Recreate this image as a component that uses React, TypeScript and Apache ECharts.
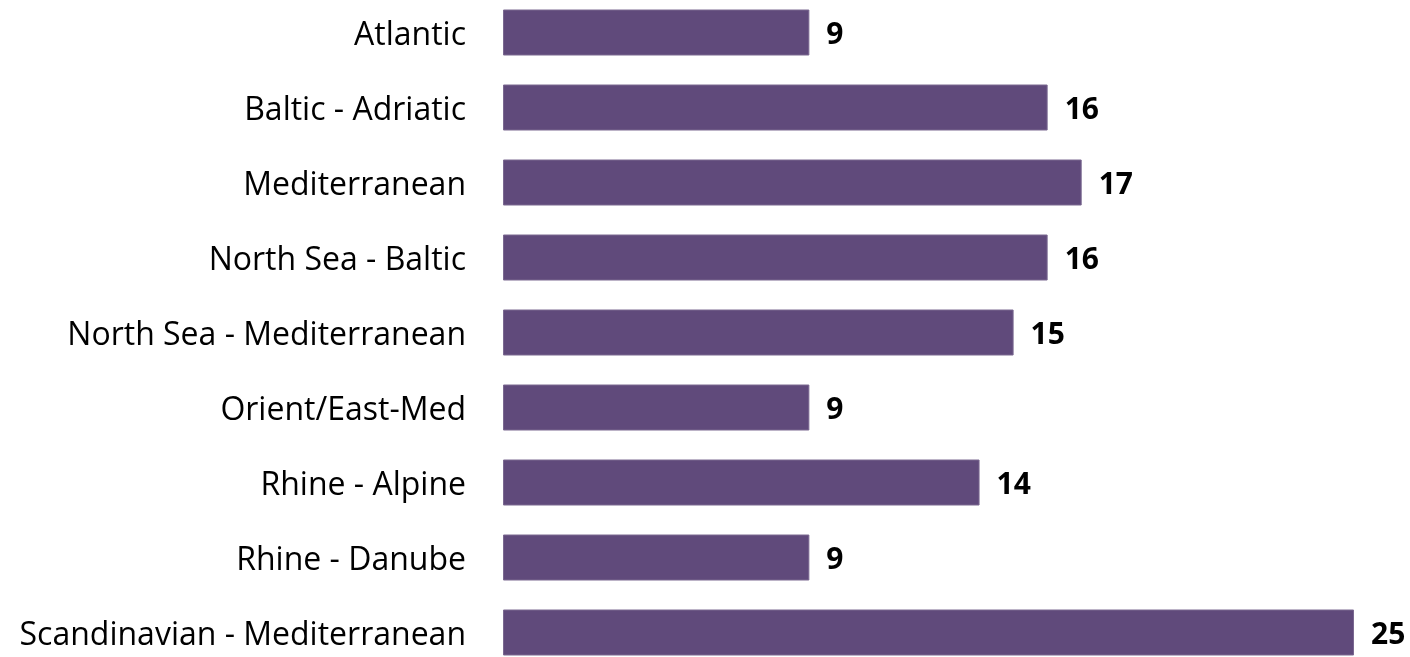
import React, { useEffect, useRef } from "react";
import * as echarts from "echarts";

const categories = [
  "Atlantic",
  "Baltic - Adriatic",
  "Mediterranean",
  "North Sea - Baltic",
  "North Sea - Mediterranean",
  "Orient/East-Med",
  "Rhine - Alpine",
  "Rhine - Danube",
  "Scandinavian - Mediterranean",
];
const values = [9, 16, 17, 16, 15, 9, 14, 9, 25];

export default function App() {
  const ref = useRef<HTMLDivElement>(null);
  useEffect(() => {
    if (!ref.current) return;
    const chart = echarts.init(ref.current, null, { renderer: "svg" });
    chart.setOption({
      animation: false,
      grid: { left: 503, right: 56, top: 0, bottom: 0, containLabel: false },
      xAxis: {
        type: "value",
        min: 0,
        max: 25,
        show: false,
      },
      yAxis: {
        type: "category",
        data: categories,
        inverse: true,
        axisLine: { show: false },
        axisTick: { show: false },
        axisLabel: {
          margin: 37,
          color: "#000",
          fontFamily: "Open Sans",
          fontSize: 32,
        },
      },
      series: [
        {
          type: "bar",
          data: values,
          barWidth: 46,
          itemStyle: { color: "#604A7B", borderColor: "#7A6890", borderWidth: 1 },
          label: {
            show: true,
            position: "right",
            distance: 17,
            color: "#000",
            fontFamily: "Open Sans",
            fontWeight: "bold",
            fontSize: 30,
          },
        },
      ],
    });
    return () => chart.dispose();
  }, []);
  return (
    <div
      ref={ref}
      style={{ position: "fixed", left: 0, top: -5, width: 1410, height: 675 }}
    />
  );
}
